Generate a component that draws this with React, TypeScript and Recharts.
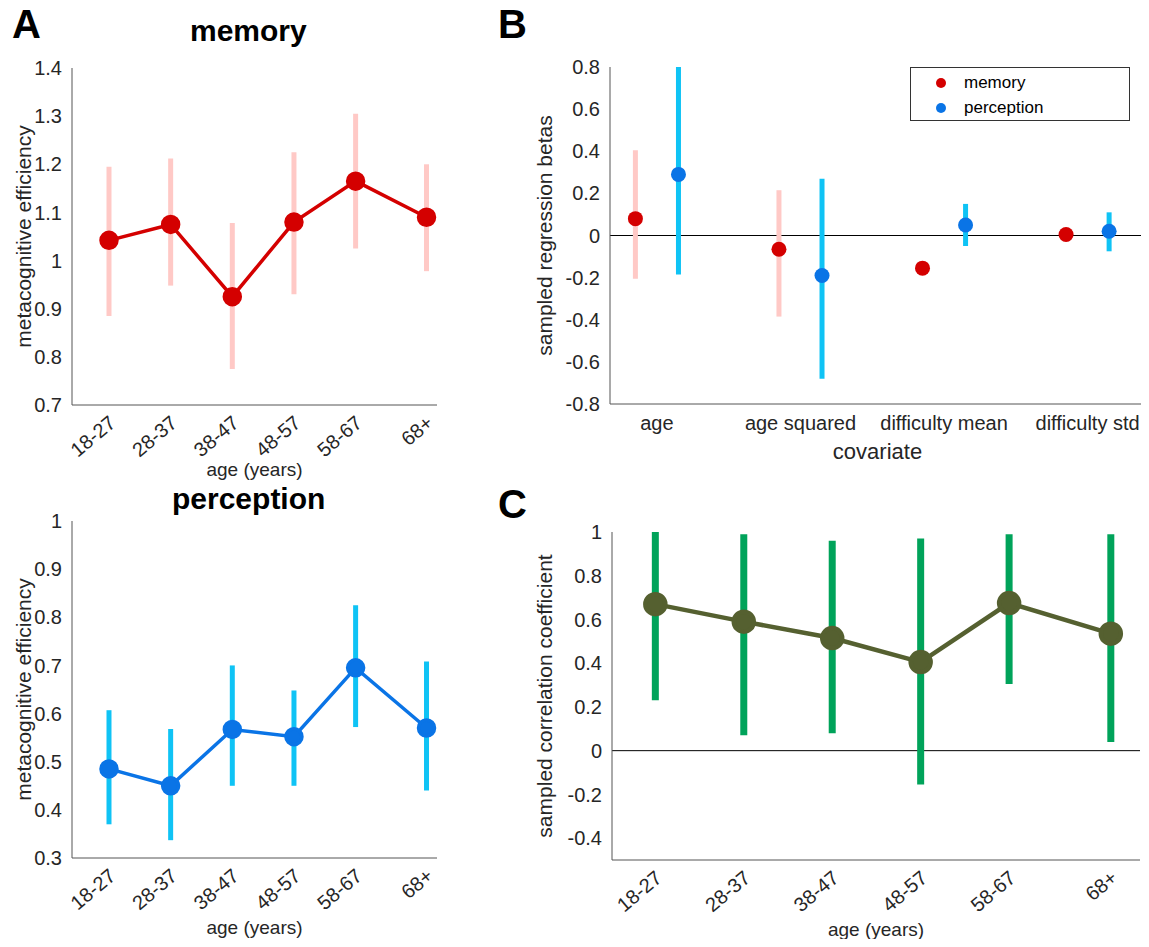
import React from 'react';
import {
  ComposedChart,
  Line,
  Scatter,
  ErrorBar,
  XAxis,
  YAxis,
  ReferenceLine,
} from 'recharts';

const ageGroups = ['18-27', '28-37', '38-47', '48-57', '58-67', '68+'];
const agePos = [22.5, 32.5, 42.5, 52.5, 62.5, 74];

const memMean = [1.042, 1.075, 0.925, 1.08, 1.165, 1.09];
const memLow = [0.885, 0.948, 0.775, 0.93, 1.025, 0.978];
const memHigh = [1.195, 1.212, 1.078, 1.225, 1.305, 1.2];

const perMean = [0.485, 0.45, 0.567, 0.552, 0.695, 0.57];
const perLow = [0.37, 0.337, 0.45, 0.45, 0.572, 0.44];
const perHigh = [0.607, 0.568, 0.7, 0.648, 0.825, 0.708];

const covariates = ['age', 'age squared', 'difficulty mean', 'difficulty std'];
const betaMem = [0.08, -0.065, -0.155, 0.005];
const betaMemLow = [-0.205, -0.385, -0.17, -0.01];
const betaMemHigh = [0.405, 0.215, -0.14, 0.02];
const betaPer = [0.29, -0.19, 0.05, 0.02];
const betaPerLow = [-0.185, -0.68, -0.05, -0.075];
const betaPerHigh = [0.8, 0.27, 0.15, 0.11];

const corrMean = [0.67, 0.59, 0.515, 0.405, 0.675, 0.535];
const corrLow = [0.23, 0.07, 0.08, -0.155, 0.305, 0.04];
const corrHigh = [1.0, 0.99, 0.96, 0.97, 0.99, 0.99];

const font = 'Liberation Sans, Arial, sans-serif';
const tickStyle = { fontSize: 20, fill: '#262626', fontFamily: font };
const labelStyle = { fontSize: 21, fill: '#262626', fontFamily: font, textAnchor: 'middle' as const };
const axisLine = { stroke: '#555' };

const build = (mean: number[], lo: number[], hi: number[], xs: number[], off = 0) =>
  mean.map((m, i) => ({ x: xs[i] + off, y: m, err: [m - lo[i], hi[i] - m] }));

const RotTick = (props: any) => {
  const { x, y, payload } = props;
  const idx = agePos.indexOf(payload.value);
  return (
    <text x={x + 8} y={y + 12} transform={`rotate(-40 ${x + 8} ${y + 12})`} textAnchor="end" {...tickStyle}>
      {ageGroups[idx]}
    </text>
  );
};

const fmt = (v: number) => String(+v.toFixed(2));

const AgePanel = ({ data, domain, ticks, bar, line, label, height, xHeight, labelOffset }: any) => (
  <ComposedChart width={450} height={height} data={data} margin={{ top: 18, right: 13, left: 0, bottom: 0 }}>
    <XAxis
      type="number"
      dataKey="x"
      domain={[16.5, 75.7]}
      ticks={agePos}
      tick={<RotTick />}
      axisLine={axisLine}
      tickLine={false}
      height={xHeight}
      label={{ value: 'age (years)', position: 'insideBottom', offset: labelOffset, style: { ...labelStyle, fontSize: 19 } }}
    />
    <YAxis
      type="number"
      domain={domain}
      ticks={ticks}
      tick={tickStyle}
      axisLine={axisLine}
      tickLine={false}
      tickMargin={4}
      width={72}
      interval={0}
      tickFormatter={fmt}
      label={{ value: label, angle: -90, position: 'insideLeft', offset: 24, style: labelStyle }}
    />
    <Line dataKey="y" stroke="none" dot={false} isAnimationActive={false}>
      <ErrorBar dataKey="err" direction="y" width={0} stroke={bar} strokeWidth={5} />
    </Line>
    <Line dataKey="y" stroke={line} strokeWidth={3.5} dot={{ r: 8, fill: line, stroke: line }} isAnimationActive={false} />
  </ComposedChart>
);

export default function App() {
  const memData = build(memMean, memLow, memHigh, agePos);
  const perData = build(perMean, perLow, perHigh, agePos);
  const corrData = build(corrMean, corrLow, corrHigh, agePos);
  const catX = [1, 2, 3, 4];
  const bMem = build(betaMem, betaMemLow, betaMemHigh, catX, -0.15);
  const bPer = build(betaPer, betaPerLow, betaPerHigh, catX, 0.15);

  const letter = { position: 'absolute' as const, fontSize: 40, fontWeight: 'bold' as const, fontFamily: font, color: '#000' };
  const title = { position: 'absolute' as const, fontSize: 30, fontWeight: 'bold' as const, fontFamily: font, color: '#000' };

  return (
    <div style={{ position: 'relative', width: 1149, height: 947, margin: -8, background: '#fff', overflow: 'hidden' }}>
      <div style={{ ...letter, left: 12, top: 2 }}>A</div>
      <div style={{ ...letter, left: 498, top: 2 }}>B</div>
      <div style={{ ...letter, left: 498, top: 482 }}>C</div>
      <div style={{ ...title, left: 190, top: 14 }}>memory</div>
      <div style={{ ...title, left: 172, top: 482 }}>perception</div>

      <div style={{ position: 'absolute', left: 0, top: 50 }}>
        <AgePanel data={memData} domain={[0.7, 1.4]} ticks={[0.7, 0.8, 0.9, 1, 1.1, 1.2, 1.3, 1.4]} bar="#ffc9c6" line="#d40000" label="metacognitive efficiency" height={430} xHeight={75} labelOffset={4} />
      </div>
      <div style={{ position: 'absolute', left: 0, top: 503 }}>
        <AgePanel data={perData} domain={[0.3, 1]} ticks={[0.3, 0.4, 0.5, 0.6, 0.7, 0.8, 0.9, 1]} bar="#0fc3f5" line="#0a74e6" label="metacognitive efficiency" height={440} xHeight={85} labelOffset={9} />
      </div>

      <div style={{ position: 'absolute', left: 518, top: 49 }}>
        <ComposedChart width={631} height={418} margin={{ top: 18, right: 4, left: 0, bottom: 0 }}>
          <XAxis
            type="number"
            dataKey="x"
            domain={[0.673, 4.4]}
            ticks={catX}
            tickFormatter={(v: number) => covariates[v - 1]}
            tick={tickStyle}
            axisLine={axisLine}
            tickLine={false}
            tickMargin={6}
            height={63}
            label={{ value: 'covariate', position: 'insideBottom', offset: 8, style: { ...labelStyle, fontSize: 22 } }}
          />
          <YAxis
            type="number"
            dataKey="y"
            domain={[-0.8, 0.8]}
            ticks={[-0.8, -0.6, -0.4, -0.2, 0, 0.2, 0.4, 0.6, 0.8]}
            tick={tickStyle}
            axisLine={axisLine}
            tickLine={false}
            tickMargin={4}
            width={92}
            tickFormatter={fmt}
            label={{ value: 'sampled regression betas', angle: -90, position: 'insideLeft', offset: 27, style: labelStyle }}
          />
          <ReferenceLine y={0} stroke="#000" strokeWidth={1} />
          <Scatter data={bMem} fill="#d40000" shape={() => null} isAnimationActive={false}>
            <ErrorBar dataKey="err" direction="y" width={0} stroke="#ffc9c6" strokeWidth={5} />
          </Scatter>
          <Scatter data={bPer} fill="#0a74e6" shape={() => null} isAnimationActive={false}>
            <ErrorBar dataKey="err" direction="y" width={0} stroke="#0fc3f5" strokeWidth={5} />
          </Scatter>
          <Scatter data={bMem} fill="#d40000" shape={(p: any) => <circle cx={p.cx} cy={p.cy} r={7.5} fill="#d40000" />} isAnimationActive={false} />
          <Scatter data={bPer} fill="#0a74e6" shape={(p: any) => <circle cx={p.cx} cy={p.cy} r={7.5} fill="#0a74e6" />} isAnimationActive={false} />
        </ComposedChart>
      </div>
      <div style={{ position: 'absolute', left: 910, top: 67, width: 220, height: 54, border: '1px solid #333', background: '#fff', fontFamily: font, fontSize: 17, color: '#000', boxSizing: 'border-box' }}>
        <div style={{ display: 'flex', alignItems: 'center', height: 25, marginTop: 2 }}>
          <span style={{ display: 'inline-block', width: 10, height: 10, borderRadius: 5, background: '#d40000', marginLeft: 25, marginRight: 18 }} />memory
        </div>
        <div style={{ display: 'flex', alignItems: 'center', height: 25 }}>
          <span style={{ display: 'inline-block', width: 10, height: 10, borderRadius: 5, background: '#0a74e6', marginLeft: 25, marginRight: 18 }} />perception
        </div>
      </div>

      <div style={{ position: 'absolute', left: 520, top: 514 }}>
        <ComposedChart width={620} height={433} data={corrData} margin={{ top: 18, right: 0, left: 0, bottom: 0 }}>
          <XAxis
            type="number"
            dataKey="x"
            domain={[17.6, 77.3]}
            ticks={agePos}
            tick={<RotTick />}
            axisLine={axisLine}
            tickLine={false}
            height={87}
            label={{ value: 'age (years)', position: 'insideBottom', offset: 11, style: { ...labelStyle, fontSize: 19 } }}
          />
          <YAxis
            type="number"
            domain={[-0.5, 1]}
            ticks={[-0.4, -0.2, 0, 0.2, 0.4, 0.6, 0.8, 1]}
            tick={tickStyle}
            axisLine={axisLine}
            tickLine={false}
            tickMargin={4}
            width={92}
            interval={0}
            tickFormatter={fmt}
            label={{ value: 'sampled correlation coefficient', angle: -90, position: 'insideLeft', offset: 25, style: labelStyle }}
          />
          <ReferenceLine y={0} stroke="#000" strokeWidth={1} />
          <Line dataKey="y" stroke="none" dot={false} isAnimationActive={false}>
            <ErrorBar dataKey="err" direction="y" width={0} stroke="#00a35a" strokeWidth={7} />
          </Line>
          <Line dataKey="y" stroke="#556030" strokeWidth={4.5} dot={{ r: 10, fill: '#556030', stroke: '#556030' }} isAnimationActive={false} />
        </ComposedChart>
      </div>
    </div>
  );
}
